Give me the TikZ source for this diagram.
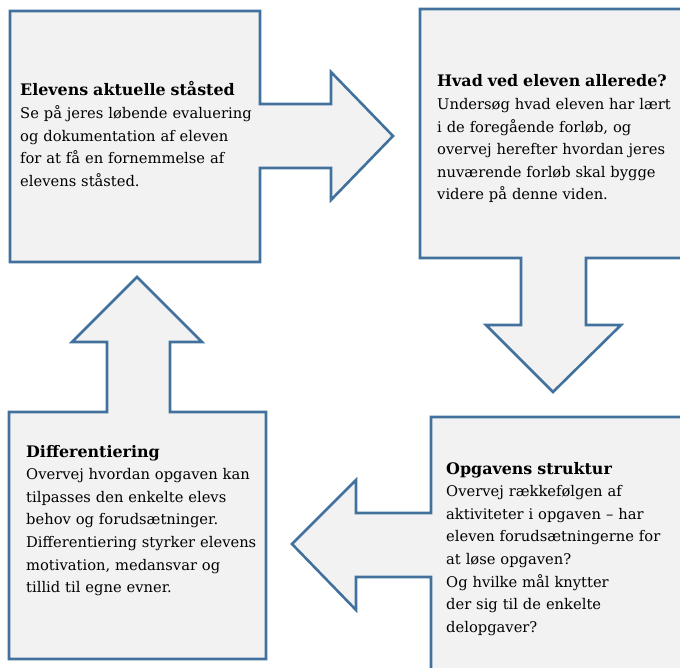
\documentclass[tikz,border=0pt]{standalone}
\usepackage{fontspec}
\setmainfont{DejaVu Serif}
\definecolor{edge}{RGB}{65,113,156}
\definecolor{panel}{RGB}{242,242,242}
\newcommand{\ttl}[1]{{\fontsize{15.9}{22.6}\selectfont\bfseries #1}}
\begin{document}
\begin{tikzpicture}[x=1pt,y=-1pt,
  callout/.style={draw=edge,fill=panel,line width=2.6pt,line join=miter},
  txt/.style={anchor=base west,inner sep=0pt,text width=260pt,align=left,
    font=\fontsize{14.7}{22.6}\selectfont}]
\useasboundingbox (0,0) rectangle (680,668);
\clip (0,0) rectangle (680,668);
% top-left callout with right arrow
\draw[callout] (10,11) -- (260,11) -- (260,104) -- (331,104) -- (331,72) -- (393,136)
  -- (331,200) -- (331,168) -- (260,168) -- (260,262) -- (10,262) -- cycle;
% top-right callout with down arrow
\draw[callout] (420,9) -- (690,9) -- (690,258) -- (586,258) -- (586,325) -- (621,325)
  -- (553,392) -- (486,325) -- (521,325) -- (521,258) -- (420,258) -- cycle;
% bottom-left callout with up arrow
\draw[callout] (9,412) -- (107,412) -- (107,342) -- (72,342) -- (137,277) -- (202,342)
  -- (170,342) -- (170,412) -- (266,412) -- (266,659) -- (9,659) -- cycle;
% bottom-right callout with left arrow
\draw[callout] (431,417) -- (690,417) -- (690,690) -- (431,690) -- (431,577) -- (356,577)
  -- (356,610) -- (292,544) -- (356,480) -- (356,513) -- (431,513) -- cycle;

\node[txt] (t1) at (20,96) {\ttl{Elevens aktuelle ståsted}\\
Se på jeres løbende evaluering\\
og dokumentation af eleven\\
for at få en fornemmelse af\\
elevens ståsted.};
\node[txt] (t2) at (437,87) {\ttl{Hvad ved eleven allerede?}\\
Undersøg hvad eleven har lært\\
i de foregående forløb, og\\
overvej herefter hvordan jeres\\
nuværende forløb skal bygge\\
videre på denne viden.};
\node[txt] (t3) at (26,457) {\ttl{Differentiering}\\
Overvej hvordan opgaven kan\\
tilpasses den enkelte elevs\\
behov og forudsætninger.\\
Differentiering styrker elevens\\
motivation, medansvar og\\
tillid til egne evner.};
\node[txt] (t4) at (446,474) {\ttl{Opgavens struktur}\\
Overvej rækkefølgen af\\
aktiviteter i opgaven – har\\
eleven forudsætningerne for\\
at løse opgaven?\\
Og hvilke mål knytter\\
der sig til de enkelte\\
delopgaver?};
\end{tikzpicture}
\end{document}
